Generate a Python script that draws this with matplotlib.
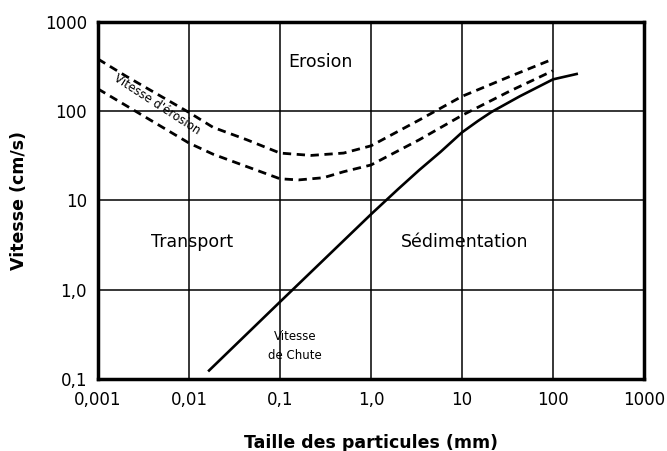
import matplotlib
matplotlib.use("Agg")
import matplotlib.pyplot as plt

plt.rcParams['font.family'] = ['DejaVu Sans']

# Upper erosion-velocity curve (dashed)
ero_hi_x = [0.001, 0.002, 0.01, 0.0184, 0.043, 0.1, 0.22, 0.5, 1.0, 3.4, 10, 34, 100]
ero_hi_y = [385, 250, 97, 66, 48, 34, 32, 34, 41, 80, 147, 247, 385]
# Lower erosion-velocity curve (dashed)
ero_lo_x = [0.001, 0.002, 0.01, 0.0184, 0.043, 0.1, 0.16, 0.3, 0.5, 1.0, 3.4, 10, 33, 100]
ero_lo_y = [178, 117, 44, 33, 24, 17.5, 17, 18, 21, 25, 48, 90, 167, 285]
# Settling velocity (solid)
fall_x = [0.0166, 0.1, 1.0, 2.0, 3.4, 5.8, 10, 15, 21, 43, 100, 182]
fall_y = [0.124, 0.73, 7.0, 13.5, 22, 35, 58, 78, 98, 147, 228, 262]

xticks = [0.001, 0.01, 0.1, 1, 10, 100, 1000]
xticklabels = ["0,001", "0,01", "0,1", "1,0", "10", "100", "1000"]
yticks = [0.1, 1, 10, 100, 1000]
yticklabels = ["0,1", "1,0", "10", "100", "1000"]

fig = plt.figure(figsize=(6.67, 4.51), dpi=100)
ax = fig.add_axes([0.147, 0.160, 0.8185, 0.791])
ax.set_xscale('log')
ax.set_yscale('log')
ax.set_xlim(0.001, 1000)
ax.set_ylim(0.1, 1000)

ax.grid(True, which='major', color='black', linewidth=1.1)
ax.minorticks_off()
ax.set_xticks(xticks)
ax.set_xticklabels(xticklabels)
ax.set_yticks(yticks)
ax.set_yticklabels(yticklabels)
ax.tick_params(axis='x', length=0, labelsize=12, pad=9)
ax.tick_params(axis='y', length=0, labelsize=12, pad=8)
for s in ax.spines.values():
    s.set_linewidth(2.5)

dash = (0, (3.0, 2.0))
ax.plot(ero_hi_x, ero_hi_y, color='black', lw=2.0, ls=dash)
ax.plot(ero_lo_x, ero_lo_y, color='black', lw=2.0, ls=dash)
ax.plot(fall_x, fall_y, color='black', lw=1.9)

ax.text(0.275, 357, "Erosion", ha='center', va='center', fontsize=12.5)
ax.text(0.0108, 3.4, "Transport", ha='center', va='center', fontsize=12.5)
ax.text(10.8, 3.4, "Sédimentation", ha='center', va='center', fontsize=12.5)
ax.text(0.146, 0.235, "Vitesse\nde Chute", ha='center', va='center', fontsize=8.5,
        linespacing=1.6)
ax.text(0.0044, 118, "Vitesse d'érosion", ha='center', va='center', fontsize=8.5,
        rotation=-33, rotation_mode='anchor')

ax.set_xlabel("Taille des particules (mm)", fontsize=12.5, fontweight='bold', labelpad=18)
ax.set_ylabel("Vitesse (cm/s)", fontsize=12.5, fontweight='bold', labelpad=12)

fig.savefig("out.png", dpi=100)
